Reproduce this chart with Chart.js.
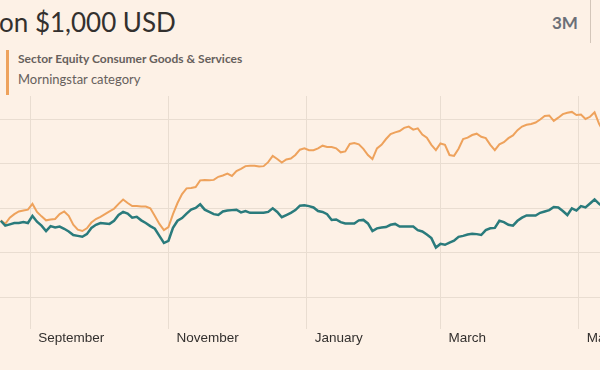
<!DOCTYPE html>
<html>
<head>
<meta charset="utf-8">
<script src="https://cdn.jsdelivr.net/npm/chart.js@4.4.0/dist/chart.umd.min.js"></script>
<style>
  html, body { margin: 0; padding: 0; }
  body { width: 600px; height: 370px; background: #fdf1e6; position: relative; overflow: hidden; font-family: Lato, "Open Sans", sans-serif; }
  #title { position: absolute; left: -1px; top: 6px; font-size: 26px; color: #33302e; white-space: nowrap; }
  #period { position: absolute; left: 552px; top: 12px; font-size: 17px; font-weight: 700; color: #6b6f77; }
  #periodRule { position: absolute; left: 590px; top: 0; width: 1px; height: 43px; background: #d3c6ba; }
  #legend { position: absolute; left: 6px; top: 50px; height: 45px; border-left: 3px solid #eea25c; padding-left: 9px; }
  #legend .name { font-size: 12px; font-weight: 700; color: #66605c; margin-top: 1px; white-space: nowrap; }
  #legend .sub { font-size: 13px; color: #66605c; margin-top: 5px; white-space: nowrap; }
  #chartBox { position: absolute; left: 0; top: 96px; width: 600px; height: 274px; }
</style>
</head>
<body>
<div id="title">on $1,000 USD</div>
<div id="period">3M</div>
<div id="periodRule"></div>
<div id="legend">
  <div class="name">Sector Equity Consumer Goods &amp; Services</div>
  <div class="sub">Morningstar category</div>
</div>
<div id="chartBox"><canvas id="growthChart" width="600" height="274"></canvas></div>

<script>
// dates of the samples (every second day)
const dates = [
  "2022-08-19","2022-08-21","2022-08-23","2022-08-25","2022-08-27","2022-08-29","2022-08-31",
  "2022-09-02","2022-09-04","2022-09-06","2022-09-08","2022-09-10","2022-09-12","2022-09-14","2022-09-16",
  "2022-09-18","2022-09-20","2022-09-22","2022-09-24","2022-09-26","2022-09-28","2022-09-30",
  "2022-10-02","2022-10-04","2022-10-06","2022-10-08","2022-10-10","2022-10-12","2022-10-14","2022-10-16",
  "2022-10-18","2022-10-20","2022-10-22","2022-10-24","2022-10-26","2022-10-28","2022-10-30",
  "2022-11-01","2022-11-03","2022-11-05","2022-11-07","2022-11-09","2022-11-11","2022-11-13","2022-11-15",
  "2022-11-17","2022-11-19","2022-11-21","2022-11-23","2022-11-25","2022-11-27","2022-11-29",
  "2022-12-01","2022-12-03","2022-12-05","2022-12-07","2022-12-09","2022-12-11","2022-12-13","2022-12-15",
  "2022-12-17","2022-12-19","2022-12-21","2022-12-23","2022-12-25","2022-12-27","2022-12-29","2022-12-31",
  "2023-01-02","2023-01-04","2023-01-06","2023-01-08","2023-01-10","2023-01-12","2023-01-14","2023-01-16",
  "2023-01-18","2023-01-20","2023-01-22","2023-01-24","2023-01-26","2023-01-28","2023-01-30",
  "2023-02-01","2023-02-03","2023-02-05","2023-02-07","2023-02-09","2023-02-11","2023-02-13","2023-02-15",
  "2023-02-17","2023-02-19","2023-02-21","2023-02-23","2023-02-25","2023-02-27",
  "2023-03-01","2023-03-03","2023-03-05","2023-03-07","2023-03-09","2023-03-11","2023-03-13","2023-03-15",
  "2023-03-17","2023-03-19","2023-03-21","2023-03-23","2023-03-25","2023-03-27","2023-03-29","2023-03-31",
  "2023-04-02","2023-04-04","2023-04-06","2023-04-08","2023-04-10","2023-04-12","2023-04-14","2023-04-16",
  "2023-04-18","2023-04-20","2023-04-22","2023-04-24","2023-04-26","2023-04-28","2023-04-30",
  "2023-05-02","2023-05-04","2023-05-06","2023-05-08","2023-05-10","2023-05-12"
];

// Sector Equity Consumer Goods & Services (Morningstar category)
const categoryValues = [
  1073,1065,1079,1087,1093,1095,1097,
  1110,1092,1082,1073,1075,1076,1087,1093,1083,1063,1052,1049,1055,1068,1076,
  1081,1087,1093,1099,1110,1120,1112,1105,1105,1104,1104,1100,1083,1065,1051,
  1058,1087,1112,1132,1145,1146,1148,1163,1164,1163,1164,1171,1174,1178,1173,
  1184,1189,1195,1196,1196,1194,1195,1204,1218,1211,1203,1210,1212,1220,1232,1235,
  1231,1231,1235,1241,1238,1238,1235,1226,1228,1245,1247,1244,1234,1220,1211,
  1235,1243,1256,1267,1271,1274,1281,1284,1277,1280,1266,1259,1243,1231,
  1246,1243,1220,1218,1234,1256,1259,1265,1268,1261,1258,1243,1231,1244,1249,1258,
  1264,1276,1284,1288,1290,1293,1300,1308,1309,1297,1304,1312,1315,1317,1310,
  1311,1301,1306,1316,1290,1272
];

// the fund itself
const fundValues = [
  1072,1061,1064,1067,1067,1069,1067,
  1083,1070,1061,1049,1060,1057,1059,1054,1048,1040,1038,1036,1042,1056,1063,
  1067,1066,1065,1072,1085,1092,1088,1079,1081,1073,1067,1060,1054,1038,1022,
  1027,1056,1072,1078,1088,1097,1101,1109,1097,1092,1087,1085,1093,1095,1096,
  1097,1091,1094,1090,1090,1090,1090,1092,1100,1092,1080,1085,1090,1096,1106,1107,
  1105,1102,1094,1092,1087,1074,1075,1069,1066,1066,1066,1073,1074,1066,1049,
  1055,1057,1058,1063,1065,1059,1059,1059,1059,1051,1048,1041,1033,1012,
  1020,1018,1023,1027,1036,1038,1041,1043,1042,1040,1051,1055,1056,1072,1069,1063,
  1061,1072,1079,1084,1084,1084,1090,1093,1096,1103,1102,1094,1085,1100,1095,
  1105,1102,1111,1120,1110,1103
];

// axis ticks
const tickDates = ["2022-09-01", "2022-11-01", "2023-01-01", "2023-03-01", "2023-05-01"];
const tickLabels = ["September", "November", "January", "March", "May"];
const valueTicks = [900, 1000, 1100, 1200, 1300];

// days since 1 Sep, so the x axis is linear in time
const dayZero = Date.UTC(2022, 8, 1);
function toDay(s) {
  const p = s.split("-");
  return (Date.UTC(+p[0], +p[1] - 1, +p[2]) - dayZero) / 86400000;
}
const dayValues = dates.map(toDay);
const tickDays = tickDates.map(toDay);

const gridColor = "#e9ddd1";

new Chart(document.getElementById("growthChart").getContext("2d"), {
  type: "line",
  data: {
    datasets: [
      {
        label: "Fund",
        data: dayValues.map((d, i) => ({ x: d, y: fundValues[i] })),
        borderColor: "#2a7b7c",
        borderWidth: 2.5,
        pointRadius: 0,
        tension: 0
      },
      {
        label: "Sector Equity Consumer Goods & Services",
        data: dayValues.map((d, i) => ({ x: d, y: categoryValues[i] })),
        borderColor: "#eea25c",
        borderWidth: 2,
        pointRadius: 0,
        tension: 0
      }
    ]
  },
  options: {
    responsive: false,
    animation: false,
    devicePixelRatio: 1,
    layout: { padding: 0 },
    plugins: { legend: { display: false }, tooltip: { enabled: false } },
    scales: {
      x: {
        type: "linear",
        min: -13.32,
        max: 251.4,
        afterBuildTicks: scale => { scale.ticks = tickDays.map(v => ({ value: v })); },
        afterFit: scale => { scale.height = 41; scale.paddingLeft = 0; scale.paddingRight = 0; },
        ticks: {
          autoSkip: false,
          maxRotation: 0,
          align: "start",
          labelOffset: 8,
          padding: 1,
          color: "#33302e",
          font: { family: "'Liberation Sans', Arial, sans-serif", size: 13.5 },
          callback: (v, i) => tickLabels[i]
        },
        grid: { color: gridColor, lineWidth: 1, drawTicks: false },
        border: { display: false }
      },
      y: {
        min: 828.5,
        max: 1352.8,
        afterBuildTicks: scale => { scale.ticks = valueTicks.map(v => ({ value: v })); },
        afterFit: scale => { scale.width = 0; },
        ticks: { display: false },
        grid: { color: gridColor, lineWidth: 1, drawTicks: false },
        border: { display: false }
      }
    }
  }
});
</script>
</body>
</html>
